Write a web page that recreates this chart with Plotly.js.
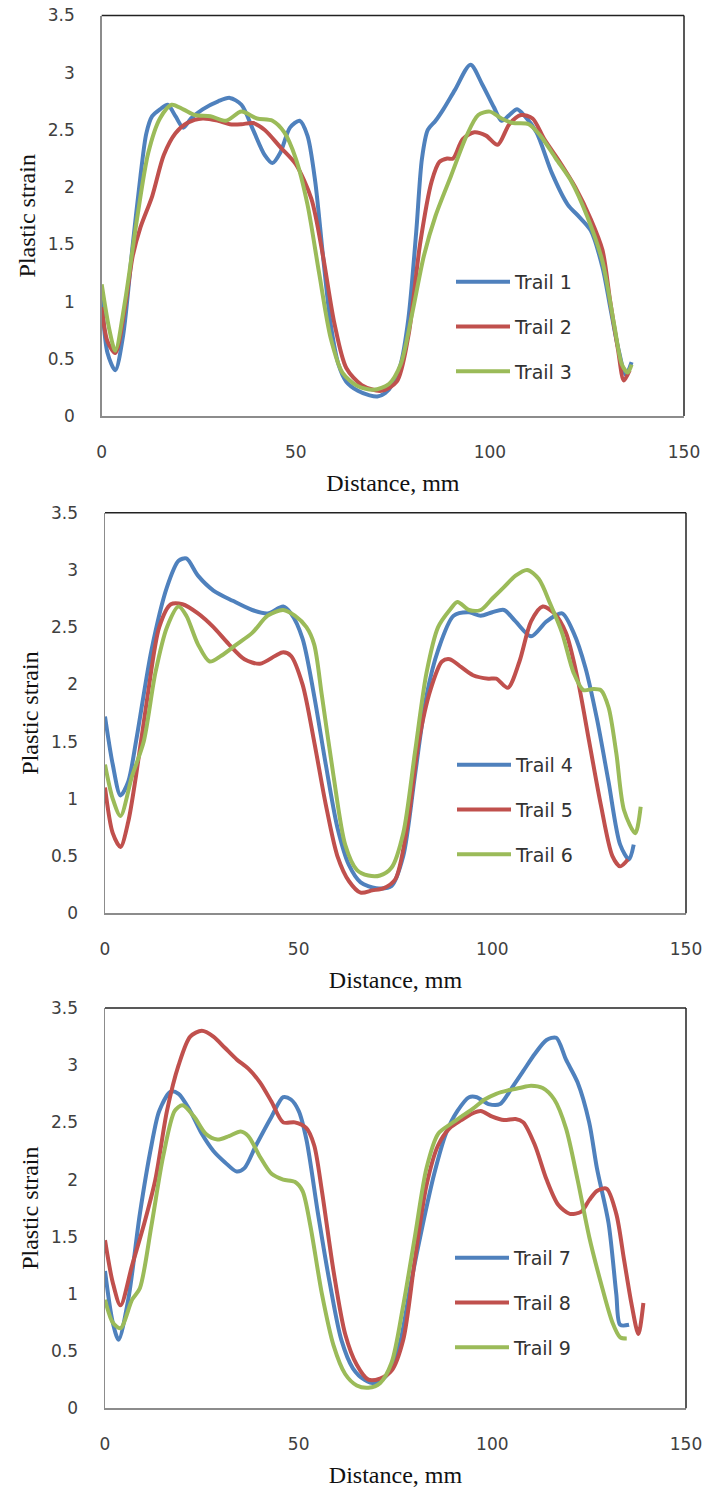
<!DOCTYPE html>
<html>
<head>
<meta charset="utf-8">
<script src="https://cdn.plot.ly/plotly-3.0.1.min.js"></script>
<style>html,body{margin:0;padding:0;background:#fff;}#chart{width:710px;height:1494px;}</style>
</head>
<body>
<div id="chart"></div>
<script>
// ---- Data ----
const trail1_x = [0, 1.5, 3.5, 5.5, 8, 10, 11.5, 13, 15, 17, 19, 21, 23, 26, 30, 33, 36, 39, 42, 44, 46, 48.5, 51, 53, 55, 57, 59, 61, 63, 66, 69, 71, 73, 75, 77, 79, 81, 82.5, 84, 86, 88, 91, 95, 98, 101, 103, 105, 107, 109, 112, 116, 120, 123, 126, 129, 131, 133, 135, 136.5];
const trail1_y = [1.05, 0.55, 0.40, 0.70, 1.50, 2.10, 2.47, 2.62, 2.68, 2.72, 2.62, 2.52, 2.60, 2.68, 2.75, 2.78, 2.72, 2.50, 2.28, 2.21, 2.30, 2.52, 2.58, 2.45, 2.05, 1.40, 0.80, 0.45, 0.30, 0.22, 0.18, 0.17, 0.20, 0.28, 0.45, 0.85, 1.60, 2.25, 2.50, 2.58, 2.68, 2.85, 3.07, 2.90, 2.70, 2.58, 2.63, 2.68, 2.62, 2.48, 2.12, 1.85, 1.74, 1.62, 1.30, 0.95, 0.60, 0.36, 0.47];
const trail2_x = [0, 1.5, 3.5, 6, 8, 10, 13, 16, 19, 22, 26, 30, 33, 36, 39, 42, 46, 50, 54, 57, 60, 63, 67, 72, 76, 79, 82, 85, 87, 89, 90.5, 93, 96, 99, 102, 105, 108, 111, 114, 118, 122, 126, 129, 131, 133, 134.5, 136];
const trail2_y = [0.95, 0.65, 0.55, 0.95, 1.40, 1.65, 1.92, 2.28, 2.47, 2.56, 2.60, 2.58, 2.55, 2.55, 2.56, 2.50, 2.35, 2.20, 1.90, 1.40, 0.80, 0.42, 0.27, 0.22, 0.30, 0.70, 1.50, 2.05, 2.22, 2.25, 2.25, 2.42, 2.48, 2.45, 2.37, 2.55, 2.63, 2.60, 2.42, 2.22, 2.00, 1.72, 1.45, 1.00, 0.58, 0.31, 0.40];
const trail3_x = [0, 2, 3.5, 6, 9, 12, 15, 18, 21, 24, 28, 32, 36, 40, 44, 47, 50, 53, 56, 59, 62, 66, 70, 74, 77, 80, 83, 86, 90, 94, 97, 100, 103, 106, 110, 113, 117, 121, 125, 129, 132, 134, 135.5, 136.5];
const trail3_y = [1.15, 0.75, 0.57, 1.00, 1.70, 2.30, 2.60, 2.72, 2.68, 2.63, 2.62, 2.58, 2.66, 2.60, 2.58, 2.48, 2.25, 1.85, 1.25, 0.68, 0.38, 0.26, 0.23, 0.28, 0.45, 0.90, 1.40, 1.75, 2.10, 2.45, 2.63, 2.66, 2.60, 2.56, 2.55, 2.45, 2.25, 2.05, 1.75, 1.35, 0.80, 0.45, 0.38, 0.45];

const trail4_x = [0, 2, 4, 6, 8, 12, 16, 19, 21, 24, 28, 33, 38, 42, 46, 48, 51, 54, 57, 60, 63, 66, 70, 74, 77, 80, 83, 86, 90, 94, 97, 100, 103, 106, 110, 114, 118, 121, 124, 127, 130, 133, 135.3, 136.5];
const trail4_y = [1.72, 1.30, 1.03, 1.15, 1.50, 2.30, 2.85, 3.08, 3.10, 2.95, 2.82, 2.73, 2.65, 2.62, 2.68, 2.62, 2.40, 1.90, 1.30, 0.75, 0.42, 0.27, 0.22, 0.24, 0.50, 1.20, 1.90, 2.30, 2.60, 2.63, 2.60, 2.63, 2.65, 2.55, 2.42, 2.55, 2.62, 2.45, 2.15, 1.70, 1.15, 0.60, 0.47, 0.60];
const trail5_x = [0, 2, 4, 6, 8, 11, 14, 17, 20, 24, 28, 32, 36, 40, 44, 46, 48, 51, 54, 57, 60, 63, 66, 69, 72, 75, 78, 81, 84, 87, 89, 92, 95, 99, 101, 104, 107, 110, 113, 116, 119, 122, 125, 128, 131, 133, 135];
const trail5_y = [1.10, 0.70, 0.58, 0.80, 1.20, 1.90, 2.50, 2.70, 2.70, 2.62, 2.50, 2.35, 2.22, 2.18, 2.25, 2.28, 2.25, 2.00, 1.50, 0.95, 0.50, 0.28, 0.18, 0.20, 0.22, 0.30, 0.75, 1.50, 1.95, 2.20, 2.22, 2.15, 2.08, 2.05, 2.05, 1.97, 2.20, 2.55, 2.68, 2.62, 2.45, 2.05, 1.50, 0.95, 0.50, 0.41, 0.47];
const trail6_x = [0, 2, 4, 7, 10, 13, 16, 19, 21, 24, 27, 30, 34, 38, 42, 46, 49, 52, 54, 56, 59, 62, 65, 68, 71, 74, 77, 80, 83, 86, 89, 91, 94, 97, 100, 103, 106, 109, 112, 115, 118, 121, 123.5, 126, 128, 130, 132, 134, 136.9, 138.3];
const trail6_y = [1.30, 1.00, 0.85, 1.20, 1.50, 2.10, 2.50, 2.68, 2.60, 2.35, 2.20, 2.25, 2.35, 2.45, 2.60, 2.65, 2.60, 2.50, 2.35, 1.90, 1.20, 0.60, 0.38, 0.33, 0.33, 0.40, 0.70, 1.40, 2.10, 2.50, 2.65, 2.72, 2.65, 2.65, 2.75, 2.85, 2.95, 3.00, 2.92, 2.70, 2.45, 2.10, 1.95, 1.96, 1.95, 1.80, 1.40, 0.90, 0.70, 0.93];

const trail7_x = [0, 2, 3.5, 6, 9, 12, 14, 17, 19, 22, 25, 28, 31, 34, 36, 39, 43, 46, 48, 50, 52, 55, 58, 61, 64, 67, 70, 73, 76, 79, 82, 85, 88, 91, 94, 96, 99, 102, 105, 108, 111, 114, 116.5, 119, 122, 125, 127, 130, 132, 133, 135.3];
const trail7_y = [1.20, 0.75, 0.60, 0.95, 1.70, 2.30, 2.60, 2.77, 2.75, 2.60, 2.40, 2.25, 2.15, 2.07, 2.10, 2.30, 2.55, 2.72, 2.70, 2.60, 2.35, 1.70, 1.10, 0.60, 0.35, 0.25, 0.22, 0.30, 0.55, 1.10, 1.60, 2.05, 2.40, 2.60, 2.72, 2.72, 2.66, 2.66, 2.80, 2.95, 3.10, 3.22, 3.24, 3.05, 2.85, 2.50, 2.10, 1.62, 1.00, 0.73, 0.73];
const trail8_x = [0, 2, 4, 7, 10, 13, 16, 19, 22, 25, 28, 31, 34, 37, 40, 43, 46, 49, 52, 54, 56, 59, 62, 65, 68, 71, 74, 77, 80, 83, 86, 89, 92, 95, 97, 100, 103, 106, 108, 111, 114, 117, 120, 123, 125, 127, 129.5, 132, 134, 136, 137.7, 139];
const trail8_y = [1.47, 1.10, 0.90, 1.25, 1.60, 2.00, 2.60, 3.00, 3.25, 3.30, 3.25, 3.15, 3.05, 2.97, 2.85, 2.68, 2.50, 2.50, 2.45, 2.30, 1.90, 1.20, 0.65, 0.38, 0.25, 0.26, 0.33, 0.60, 1.30, 1.95, 2.30, 2.45, 2.52, 2.58, 2.60, 2.55, 2.52, 2.53, 2.50, 2.30, 2.00, 1.78, 1.70, 1.72, 1.82, 1.90, 1.92, 1.70, 1.30, 0.90, 0.65, 0.92];
const trail9_x = [0, 2, 4, 7, 9, 12, 15, 18, 20, 23, 26, 29, 32, 35, 37, 40, 43, 46, 49, 51, 53, 56, 59, 62, 65, 68, 71, 74, 77, 80, 83, 86, 89, 92, 95, 98, 101, 104, 107, 110, 113, 116, 119, 122, 125, 128, 131, 133, 134.7];
const trail9_y = [0.95, 0.75, 0.70, 0.95, 1.05, 1.60, 2.20, 2.60, 2.65, 2.55, 2.40, 2.35, 2.38, 2.42, 2.38, 2.20, 2.05, 2.00, 1.98, 1.90, 1.60, 1.00, 0.55, 0.30, 0.20, 0.18, 0.22, 0.40, 0.90, 1.50, 2.10, 2.40, 2.48, 2.55, 2.62, 2.70, 2.75, 2.78, 2.80, 2.82, 2.80, 2.70, 2.45, 2.00, 1.50, 1.10, 0.75, 0.62, 0.61];

const seriesNames = ['Trail 1','Trail 2','Trail 3','Trail 4','Trail 5','Trail 6','Trail 7','Trail 8','Trail 9'];
const xTicks = [0, 50, 100, 150];
const yTicks = [0, 0.5, 1, 1.5, 2, 2.5, 3, 3.5];
const xTitle = 'Distance, mm';
const yTitle = 'Plastic strain';

// ---- Styling ----
const colors = ['#4F81BD', '#C0504D', '#9BBB59'];
const xs = [trail1_x, trail2_x, trail3_x, trail4_x, trail5_x, trail6_x, trail7_x, trail8_x, trail9_x];
const ys = [trail1_y, trail2_y, trail3_y, trail4_y, trail5_y, trail6_y, trail7_y, trail8_y, trail9_y];

const traces = [];
for (let i = 0; i < 9; i++) {
  const p = Math.floor(i / 3);
  traces.push({
    type: 'scatter', mode: 'lines',
    x: xs[i], y: ys[i], name: seriesNames[i],
    xaxis: p === 0 ? 'x' : 'x' + (p + 1),
    yaxis: p === 0 ? 'y' : 'y' + (p + 1),
    legend: p === 0 ? 'legend' : 'legend' + (p + 1),
    legendgroup: 'g' + i,
    line: {color: colors[i % 3], width: 4, shape: 'spline', smoothing: 0.8}
  });
}

const H = 1494, W = 710;
const tickFont = {family: 'DejaVu Sans, sans-serif', size: 17, color: '#404040'};
const titleFont = {family: 'Liberation Serif, Times New Roman, serif', size: 24, color: '#111'};

function xa(domain, anchor) {
  return {domain: domain, anchor: anchor, range: [0, 150], tickvals: xTicks, showgrid: false, zeroline: false,
    showline: true, linecolor: '#8c8c8c', linewidth: 1.5, ticks: '', tickfont: tickFont, ticklabelstandoff: 20,
    title: {text: xTitle, font: titleFont, standoff: 13}};
}
function ya(domain, anchor) {
  return {domain: domain, anchor: anchor, range: [0, 3.5], tickvals: yTicks, showgrid: false, zeroline: false,
    showline: true, linecolor: '#8c8c8c', linewidth: 1.5, ticks: '', tickfont: tickFont, ticklabelstandoff: 22,
    title: {text: yTitle, font: titleFont, standoff: 5}};
}
function legendAt(xpx, ypx) {
  return {x: xpx / W, y: 1 - ypx / H, xanchor: 'left', yanchor: 'top', bgcolor: 'rgba(0,0,0,0)',
    font: {family: 'DejaVu Sans, sans-serif', size: 19, color: '#333'}, itemwidth: 54, tracegroupgap: 17,
    traceorder: 'grouped'};
}

const yd = [[1 - 416 / H, 1 - 15.5 / H], [1 - 913.3 / H, 1 - 512.7 / H], [1 - 1408.3 / H, 1 - 1008 / H]];
const xd = [[101.7 / W, 684 / W], [105 / W, 686 / W], [105 / W, 686 / W]];

const shapes = [];
['x', 'x2', 'x3'].forEach(function (ax, k) {
  const yr = k === 0 ? 'y' : 'y' + (k + 1);
  shapes.push({type: 'line', xref: ax + ' domain', yref: yr + ' domain', x0: 0, x1: 1, y0: 1, y1: 1, line: {color: '#222', width: 1.5}});
  shapes.push({type: 'line', xref: ax + ' domain', yref: yr + ' domain', x0: 1, x1: 1, y0: 0, y1: 1, line: {color: '#222', width: 1.5}});
});

const layout = {
  width: W, height: H,
  margin: {l: 0, r: 0, t: 0, b: 0},
  paper_bgcolor: '#fff', plot_bgcolor: '#fff',
  showlegend: true,
  xaxis: xa(xd[0], 'y'), yaxis: ya(yd[0], 'x'),
  xaxis2: xa(xd[1], 'y2'), yaxis2: ya(yd[1], 'x2'),
  xaxis3: xa(xd[2], 'y3'), yaxis3: ya(yd[2], 'x3'),
  legend: legendAt(451, 263),
  legend2: legendAt(452, 746),
  legend3: legendAt(450, 1239),
  shapes: shapes
};

Plotly.newPlot('chart', traces, layout, {displayModeBar: false, staticPlot: true});
</script>
</body>
</html>
